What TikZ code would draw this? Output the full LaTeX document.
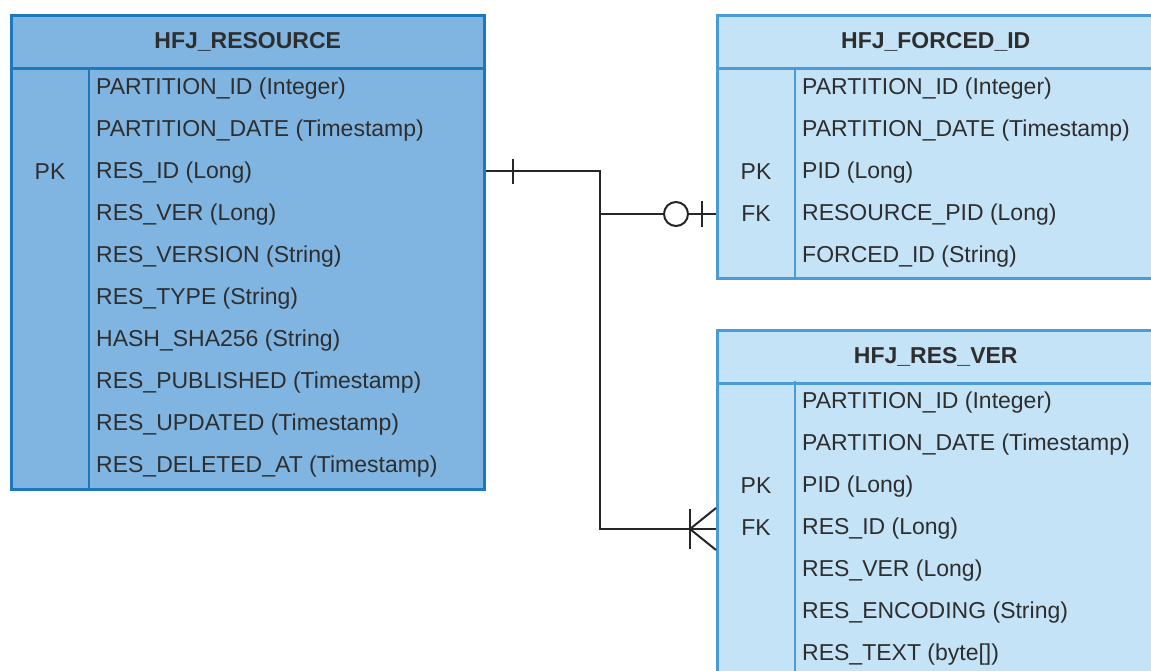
\documentclass[tikz,border=0pt]{standalone}
\usepackage{fontspec}
\setmainfont{Liberation Sans}
\usepackage{tikz}
\usetikzlibrary{positioning,calc}
\definecolor{darkfill}{HTML}{80B5E2}
\definecolor{darkline}{HTML}{1E78BE}
\definecolor{lightfill}{HTML}{C4E3F7}
\definecolor{lightline}{HTML}{4B9BD6}
\definecolor{txt}{HTML}{2E2E2E}

\begin{document}
\begin{tikzpicture}[x=1pt,y=-1pt,
  tab/.style={draw=#1line, fill=#1fill, line width=2.5pt, inner sep=0pt, anchor=north west},
  head/.style={draw=#1line, line width=2.5pt, inner sep=0pt, anchor=north, text=txt, font=\fontsize{23}{27}\selectfont\bfseries},
  row/.style={anchor=west, inner sep=0pt, text=txt, font=\fontsize{23}{27}\selectfont},
  key/.style={inner sep=0pt, text=txt, font=\fontsize{23}{27}\selectfont},
  conn/.style={black!85, line width=2pt}]
\useasboundingbox (0,0) rectangle (1151,670);
\clip (0,0) rectangle (1151,670);
% HFJ_RESOURCE
\node[tab=dark, minimum width=473pt, minimum height=474pt] (res) at (10,14) {};
\node[head=dark, minimum width=473pt, minimum height=53pt] (resh) at (res.north) {HFJ\_RESOURCE};
\draw[darkline, line width=2.5pt] (89,67) -- (89,488);
\foreach \t [count=\i] in {PARTITION\_ID (Integer), PARTITION\_DATE (Timestamp), RES\_ID (Long), RES\_VER (Long), RES\_VERSION (String), RES\_TYPE (String), HASH\_SHA256 (String), RES\_PUBLISHED (Timestamp), RES\_UPDATED (Timestamp), RES\_DELETED\_AT (Timestamp)}
  \node[row] (res\i) at (96,47+42*\i) {\t};
\node[key] (respk) at (50,172) {PK};
% HFJ_FORCED_ID
\node[tab=light, minimum width=480pt, minimum height=263pt] (fid) at (716,14) {};
\node[head=light, minimum width=480pt, minimum height=53pt] (fidh) at (fid.north) {\hspace*{-43pt}HFJ\_FORCED\_ID};
\draw[lightline, line width=2pt] (795,67) -- (795,277);
\foreach \t [count=\i] in {PARTITION\_ID (Integer), PARTITION\_DATE (Timestamp), PID (Long), RESOURCE\_PID (Long), FORCED\_ID (String)}
  \node[row] (fid\i) at (802,47+42*\i) {\t};
\node[key] (fidpk) at (756,172) {PK};
\node[key] (fidfk) at (756,214) {FK};
% HFJ_RES_VER
\node[tab=light, minimum width=480pt, minimum height=400pt] (rv) at (716,329) {};
\node[head=light, minimum width=480pt, minimum height=53pt] (rvh) at (rv.north) {\hspace*{-43pt}HFJ\_RES\_VER};
\draw[lightline, line width=2pt] (795,381) -- (795,680);
\foreach \t [count=\i] in {PARTITION\_ID (Integer), PARTITION\_DATE (Timestamp), PID (Long), RES\_ID (Long), RES\_VER (Long), RES\_ENCODING (String), RES\_TEXT (byte[])}
  \node[row] (rv\i) at (802,361+42*\i) {\t};
\node[key] (rvpk) at (756,486) {PK};
\node[key] (rvfk) at (756,528) {FK};
% relations
\coordinate (bend) at (600,171);
\draw[conn] (bend -| res.east) -- (bend) |- ($(rvfk -| rv.west)+(0,1)$);
\draw[conn] (bend |- fidfk) -- (fidfk -| fid.west);
% one
\draw[conn] ($(bend -| res.east)+(27,-12)$) -- ++(0,25);
% zero or one
\draw[conn, fill=white] ($(fidfk -| fid.west)+(-40,0)$) circle [radius=12];
\draw[conn] ($(fidfk -| fid.west)+(-14,-13)$) -- ++(0,26);
% one or many
\draw[conn] ($(rvfk -| rv.west)+(0,-20)$) -- ++(-26,21) -- ++(26,21);
\draw[conn] ($(rvfk -| rv.west)+(-26,-19)$) -- ++(0,40);
\end{tikzpicture}
\end{document}
